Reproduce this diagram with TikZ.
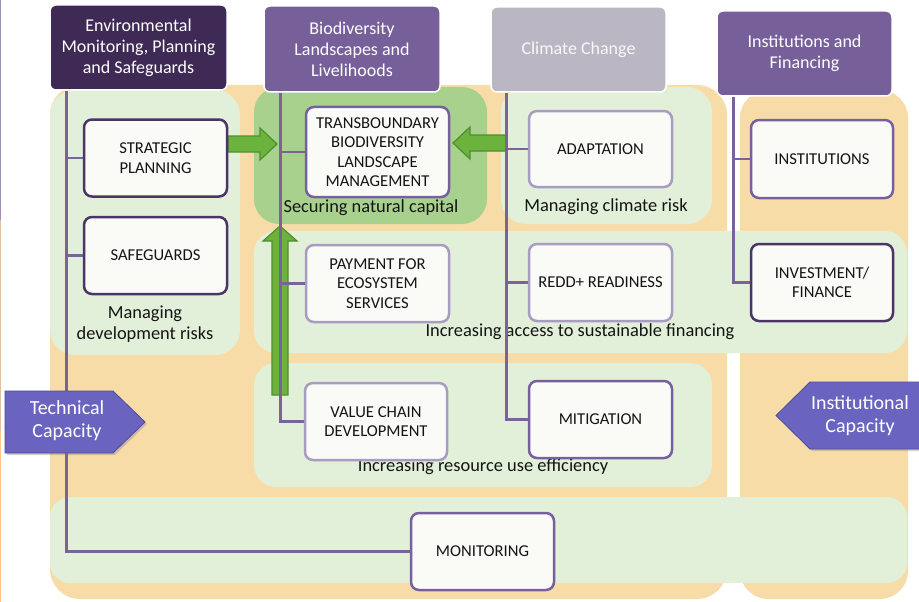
\documentclass[tikz,border=0pt]{standalone}
\usepackage{fontspec}
\setmainfont{Carlito}
\usetikzlibrary{shadows}
\definecolor{orangebg}{HTML}{F8DCA8}
\definecolor{lgreen}{HTML}{E2F0D9}
\definecolor{dgreen}{HTML}{A9D18E}
\definecolor{boxfill}{HTML}{FAFAF7}
\definecolor{hdark}{HTML}{3F2A56}
\definecolor{hmed}{HTML}{77609A}
\definecolor{hgrey}{HTML}{BAB6C4}
\definecolor{lineP}{HTML}{7A6399}
\definecolor{bdark}{HTML}{4A3566}
\definecolor{bmed}{HTML}{7660A0}
\definecolor{blight}{HTML}{A99CC2}
\definecolor{callfill}{HTML}{6A64C0}
\definecolor{calldraw}{HTML}{4F4A9A}
\definecolor{arrfill}{HTML}{6CB33E}
\definecolor{arrdraw}{HTML}{4E8F2C}
\definecolor{txt}{HTML}{141414}
\begin{document}
\begin{tikzpicture}[x=1pt,y=-1pt,
  hdr/.style={rounded corners=6pt, draw=white, line width=1.5pt, text=white, align=center,
    font=\fontsize{18}{21}\selectfont, inner sep=0pt},
  wbox/.style={rounded corners=8pt, fill=boxfill, line width=2.5pt, align=center,
    font=\fontsize{16.6}{19.5}\selectfont, text=txt, minimum width=143pt, minimum height=77pt, inner sep=0pt},
  lbl/.style={font=\fontsize{18.4}{21.5}\selectfont, align=center, text=txt, inner sep=0pt},
  conn/.style={draw=lineP, line width=2.5pt},
  garrow/.style={fill=arrfill, draw=arrdraw, line width=1.2pt, line join=miter},
  callout/.style={fill=callfill, draw=calldraw, line width=0.8pt,
    drop shadow={opacity=0.35, shadow xshift=2pt, shadow yshift=-2pt}},
  calltxt/.style={text=white, align=center, font=\fontsize{20}{23}\selectfont, inner sep=0pt}]
\useasboundingbox (0,0) rectangle (919,602);
\fill[white] (0,0) rectangle (919,602);
\begin{scope}
\clip (0,0) rectangle (919,602);
% edge line
\draw[line width=1.2pt, color=lineP!70] (0.6,0) -- (0.6,220);
\draw[line width=1.2pt, color=brown!50] (0.6,220) -- (0.6,430);
\draw[line width=1.2pt, color=orange!45] (0.6,430) -- (0.6,602);
% orange backgrounds
\fill[orangebg, rounded corners=30pt] (50,85) rectangle (727,599);
\fill[orangebg, rounded corners=28pt] (740,90) rectangle (908,599);
% green panels
\fill[lgreen, rounded corners=25pt] (50,90) rectangle (240,355);
\fill[dgreen, rounded corners=25pt] (254,87) rectangle (487,224);
\fill[lgreen, rounded corners=25pt] (501,87) rectangle (712,224);
\fill[lgreen, rounded corners=22pt] (254,231) rectangle (907,353);
\fill[lgreen, rounded corners=22pt] (254,363) rectangle (712,487);
\fill[lgreen, rounded corners=20pt] (50,497) rectangle (907,583);
% panel labels
\node[lbl] (lab1) at (145,324) {Managing\\development risks};
\node[lbl] (lab2) at (371,208) {Securing natural capital};
\node[lbl] (lab3) at (606,207) {Managing climate risk};
\node[lbl] (lab4) at (580,332) {Increasing access to sustainable financing};
\node[lbl] (lab5) at (483,467) {Increasing resource use efficiency};
% headers
\node[hdr, fill=hdark, minimum width=177pt, minimum height=85pt] (env) at (138.5,47.5) {Environmental\\Monitoring, Planning\\and Safeguards};
\node[hdr, fill=hmed, minimum width=176pt, minimum height=86pt] (bio) at (352,49) {Biodiversity\\Landscapes and\\Livelihoods};
\node[hdr, fill=hgrey, text=white!92!hgrey, minimum width=175pt, minimum height=85pt] (clim) at (578.5,49.5) {Climate Change};
\node[hdr, fill=hmed, minimum width=175pt, minimum height=85pt] (inst) at (804.5,53.5) {Institutions and\\Financing};
% green block arrows
\draw[garrow] (228,136) -- (260,136) -- (260,128) -- (277,144) -- (260,160) -- (260,152) -- (228,152) -- cycle;
\draw[garrow] (507,135) -- (470,135) -- (470,127) -- (453,143) -- (470,159) -- (470,151) -- (507,151) -- cycle;
\draw[garrow] (272,395) -- (272,241) -- (263,241) -- (280,226) -- (297,241) -- (288,241) -- (288,395) -- cycle;
% boxes
\node[wbox, draw=bdark] (strat) at (155.5,158) {STRATEGIC\\PLANNING};
\node[wbox, draw=bdark] (safe) at (155.5,255.5) {SAFEGUARDS};
\node[wbox, draw=bmed, minimum height=90pt] (trans) at (377.5,152) {TRANSBOUNDARY\\BIODIVERSITY\\LANDSCAPE\\MANAGEMENT};
\node[wbox, draw=blight, minimum height=76pt] (adapt) at (600.5,149) {ADAPTATION};
\node[wbox, draw=bmed, minimum width=142pt, minimum height=78pt] (instn) at (822,159) {INSTITUTIONS};
\node[wbox, draw=blight] (pay) at (377.5,283.5) {PAYMENT FOR\\ECOSYSTEM\\SERVICES};
\node[wbox, draw=blight] (redd) at (600.5,282.5) {REDD+ READINESS};
\node[wbox, draw=bdark, minimum width=142pt] (inv) at (822,282.5) {INVESTMENT/\\FINANCE};
\node[wbox, draw=blight, minimum width=142pt] (val) at (376,421.5) {VALUE CHAIN\\DEVELOPMENT};
\node[wbox, draw=bmed] (mit) at (600.5,419.5) {MITIGATION};
\node[wbox, draw=bmed] (mon) at (482.5,551.5) {MONITORING};
% connectors
\coordinate (t1) at ([xshift=17pt]env.south west);
\coordinate (t2) at ([xshift=17pt]bio.south west);
\coordinate (t3) at ([xshift=16pt]clim.south west);
\coordinate (t4) at ([xshift=17pt]inst.south west);
\draw[conn] (t1) |- (mon.west);
\draw[conn] (strat.west) -- (strat.west -| t1);
\draw[conn] (safe.west) -- (safe.west -| t1);
\draw[conn] (t2) |- (val.west);
\draw[conn] (trans.west) -- (trans.west -| t2);
\draw[conn] (pay.west) -- (pay.west -| t2);
\draw[conn] (t3) |- (mit.west);
\draw[conn] (adapt.west) -- (adapt.west -| t3);
\draw[conn] (redd.west) -- (redd.west -| t3);
\draw[conn] (t4) |- (inv.west);
\draw[conn] (instn.west) -- (instn.west -| t4);
% callouts
\path[callout] (5,391) -- (113,391) -- (145,422) -- (113,453) -- (5,453) -- cycle;
\node[calltxt] (tech) at (67,421) {Technical\\Capacity};
\path[callout] (924,382) -- (810,382) -- (776,415.5) -- (810,449) -- (924,449) -- cycle;
\node[calltxt] (instcap) at (860,416) {Institutional\\Capacity};
\end{scope}
\end{tikzpicture}
\end{document}
